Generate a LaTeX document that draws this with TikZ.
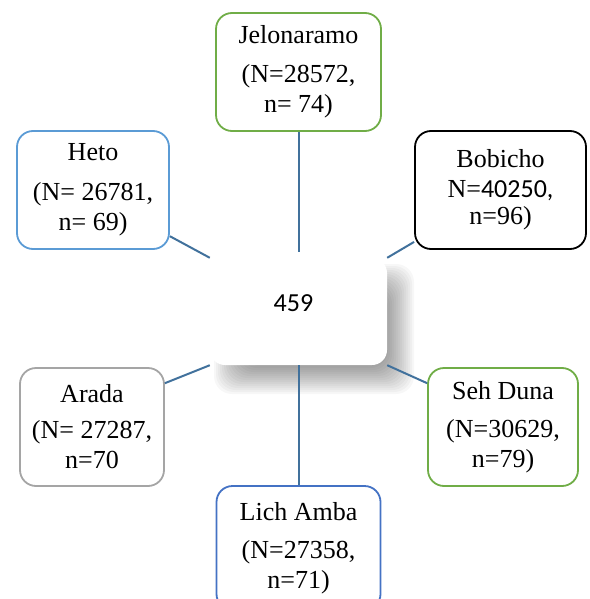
\documentclass[tikz,border=0pt]{standalone}
\usepackage{fontspec}
\setmainfont{Liberation Serif}
\newfontfamily\carlito{Carlito}
\definecolor{sitegreen}{RGB}{112,173,71}
\definecolor{hetoblue}{RGB}{91,155,213}
\definecolor{lichblue}{RGB}{68,114,196}
\definecolor{aradagray}{RGB}{165,165,165}
\definecolor{linkblue}{RGB}{65,113,156}
\begin{document}
\begin{tikzpicture}[x=1pt, y=-1pt, line cap=round, line join=round,
  site/.style={draw=#1, line width=1.8pt, rounded corners=16pt, fill=white,
    minimum height=118pt, inner sep=0pt, align=center,
    font=\fontsize{26}{30}\selectfont},
  hub/.style={fill=white, rounded corners=15pt, minimum width=177pt,
    minimum height=107pt, inner sep=0pt, text depth=16pt,
    font=\carlito\fontsize{26}{30}\selectfont},
  link/.style={draw=linkblue, line width=2pt, line cap=butt}]

  % Frame
  \useasboundingbox (0,0) rectangle (589,599);
  \clip (0,0) rectangle (589,599);

  % Shadow of the centre box
  \foreach \e in {-16,-14,...,14}
    \fill[black, opacity=0.03, rounded corners=18pt]
      (228-\e,278-\e) rectangle (400+\e,380+\e);

  % Centre box
  \node[hub] (ctr) at (298.5,311.5) {459\kern10pt};

  % Sites
  \node[site=sitegreen, minimum width=165pt] (jelo) at (298.5,72)
    {Jelonaramo\\[9pt](N=28572,\\n= 74)};
  \node[site=hetoblue, minimum width=152pt] (heto) at (93,190)
    {Heto\\[10pt](N= 26781,\\n= 69)};
  \node[site=black, minimum width=171pt] (bob) at (500.5,190)
    {Bobicho\\N={\carlito 40250,}\\[-3pt]n=96)};
  \node[site=aradagray, minimum width=144pt] (arada) at (92,427)
    {Arada\\[6pt](N= 27287,\\n=70};
  \node[site=sitegreen, minimum width=150pt] (seh) at (503,427)
    {Seh Duna\\[8pt](N=30629,\\n=79)};
  \node[site=lichblue, minimum width=164pt, minimum height=124pt] (lich) at (298.5,548)
    {Lich Amba\\[8pt](N=27358,\\n=71)};

  % Links
  \draw[link] (jelo.south) -- ([yshift=6pt]ctr.north);
  \draw[link] (ctr.south) -- (lich.north);
  \draw[link] (heto.-31) -- (ctr.north west);
  \draw[link] (bob.211) -- (ctr.north east);
  \draw[link] (arada.31) -- (ctr.south west);
  \draw[link] (seh.150) -- (ctr.south east);
\end{tikzpicture}
\end{document}
